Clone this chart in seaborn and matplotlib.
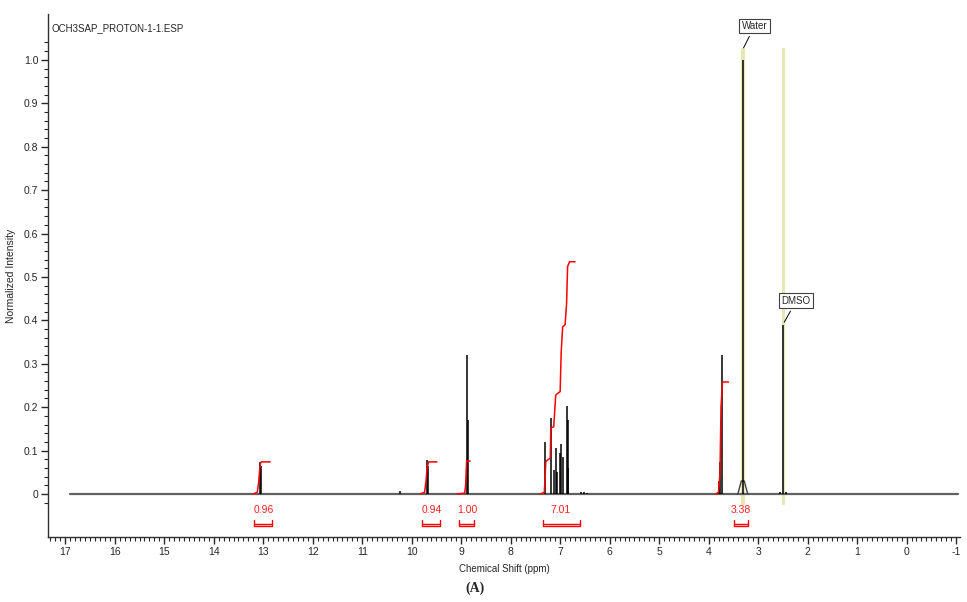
import numpy as np
import pandas as pd
import seaborn as sns
import matplotlib.pyplot as plt
from matplotlib.ticker import FixedLocator, FuncFormatter


# peak lines of the 1H spectrum (ppm, normalized intensity)
PEAK_PPM = [13.07, 13.04, 10.23, 9.70, 9.67, 8.89, 8.87,
            7.30, 7.19, 7.13, 7.09, 7.07, 7.01, 6.98, 6.95, 6.87, 6.85, 6.84,
            6.58, 6.52, 6.45, 3.79, 3.77, 3.73, 3.31, 2.55, 2.49, 2.44]
PEAK_HEIGHT = [0.074, 0.065, 0.007, 0.078, 0.065, 0.32, 0.17,
               0.12, 0.175, 0.055, 0.106, 0.05, 0.094, 0.115, 0.085, 0.203, 0.17, 0.06,
               0.004, 0.004, 0.003, 0.03, 0.074, 0.32, 1.0, 0.005, 0.39, 0.005]
BASELINE_PPM = [16.9, -1.04]
WATER_FOOT_PPM = [3.41, 3.34, 3.28, 3.21]
WATER_FOOT_VAL = [0.0, 0.03, 0.03, 0.0]

# integral curves (ppm, cumulative value)
INTEGRALS = {
    "0.96": ([13.20, 13.12, 13.09, 13.07, 13.05, 13.04, 12.86],
             [0.0, 0.004, 0.03, 0.06, 0.072, 0.074, 0.074]),
    "0.94": ([9.83, 9.74, 9.71, 9.69, 9.66, 9.49],
             [0.0, 0.004, 0.03, 0.06, 0.074, 0.074]),
    "1.00": ([9.08, 8.93, 8.91, 8.90, 8.89, 8.82],
             [0.0, 0.002, 0.02, 0.05, 0.076, 0.076]),
    "7.01": ([7.40, 7.32, 7.30, 7.29, 7.20, 7.19, 7.13, 7.09, 7.00, 6.98,
              6.95, 6.90, 6.87, 6.85, 6.81, 6.70],
             [0.0, 0.004, 0.05, 0.075, 0.083, 0.152, 0.155, 0.228, 0.236, 0.325,
              0.385, 0.39, 0.44, 0.524, 0.535, 0.535]),
    "3.38": ([3.86, 3.80, 3.77, 3.75, 3.72, 3.60],
             [0.0, 0.004, 0.05, 0.2, 0.258, 0.258]),
}
INTEGRAL_LABEL_PPM = [12.99, 9.60, 8.88, 6.99, 3.35]
BRACKET_RANGES = [(13.18, 12.83), (9.79, 9.43), (9.05, 8.75), (7.34, 6.59), (3.48, 3.20)]

SOLVENT_BANDS = [(3.35, 3.27), (2.52, 2.45)]

sns.set_style("ticks")
plt.rcParams['font.family'] = ['Liberation Sans Narrow', 'Liberation Sans', 'DejaVu Sans']
plt.rcParams['axes.unicode_minus'] = False

fig = plt.figure(figsize=(9.67, 6.02), dpi=100)
ax = fig.add_axes([0.0496, 0.108, 0.9432, 0.869])

# solvent highlight bands
for lo, hi in SOLVENT_BANDS:
    ax.fill_between([lo, hi], -0.025, 1.027, color="#e8e6b4", lw=0, zorder=1)

# baseline and peaks
ax.plot(BASELINE_PPM, [0, 0], color="#606060", lw=1.6, zorder=2)
ax.plot(WATER_FOOT_PPM, WATER_FOOT_VAL, color="#404040", lw=1.0, zorder=3)
ax.vlines(PEAK_PPM, 0, PEAK_HEIGHT, color="black", lw=1.1, zorder=4)

# integral curves
for label, (xs, ys) in INTEGRALS.items():
    df = pd.DataFrame({"ppm": xs, "val": ys})
    sns.lineplot(data=df, x="ppm", y="val", ax=ax, color="#ff0000", lw=1.1,
                 sort=False, estimator=None, zorder=5)

# integral values and brackets
for (label, _), xl, (b0, b1) in zip(INTEGRALS.items(), INTEGRAL_LABEL_PPM, BRACKET_RANGES):
    ax.text(xl, -0.037, label, color="#ff2020", fontsize=7.5, ha="center", va="center")
    ax.plot([b0, b0, b1, b1], [-0.061, -0.074, -0.074, -0.061], color="#ff0000", lw=1.0)
    ax.plot([b0, b1], [-0.070, -0.070], color="#ff0000", lw=1.0)

# solvent labels
ax.annotate("Water", xy=(3.32, 1.022), xytext=(3.07, 1.078), fontsize=7, ha="center",
            va="center", bbox=dict(boxstyle="square,pad=0.25", fc="white", ec="#404040", lw=0.8),
            arrowprops=dict(arrowstyle="-", color="black", lw=0.7))
ax.annotate("DMSO", xy=(2.50, 0.39), xytext=(2.23, 0.445), fontsize=7, ha="center",
            va="center", bbox=dict(boxstyle="square,pad=0.25", fc="white", ec="#404040", lw=0.8),
            arrowprops=dict(arrowstyle="-", color="black", lw=0.7))

ax.text(0.004, 0.973, "OCH3SAP_PROTON-1-1.ESP", transform=ax.transAxes, fontsize=7,
        ha="left", va="center")

ax.set_xlim(17.35, -1.08)
ax.set_ylim(-0.099, 1.106)

ax.xaxis.set_major_locator(FixedLocator(np.arange(17, -2, -1)))
ax.xaxis.set_minor_locator(FixedLocator(np.arange(17.3, -1.05, -0.1)))
ax.xaxis.set_major_formatter(FuncFormatter(lambda v, p: f"{v:.0f}"))
ax.yaxis.set_major_locator(FixedLocator(np.round(np.arange(0, 1.01, 0.1), 2)))
ax.yaxis.set_minor_locator(FixedLocator(np.arange(-0.02, 1.05, 0.02)))
ax.yaxis.set_major_formatter(FuncFormatter(lambda v, p: "0" if abs(v) < 1e-9 else f"{v:.1f}"))

ax.tick_params(axis="both", which="major", length=5, width=1, labelsize=7.5, pad=2)
ax.tick_params(axis="both", which="minor", length=3, width=0.8)
for s in ["top", "right"]:
    ax.spines[s].set_visible(False)
for s in ["left", "bottom"]:
    ax.spines[s].set_color("#303030")
    ax.spines[s].set_linewidth(1.0)

ax.set_xlabel("Chemical Shift (ppm)", fontsize=7, labelpad=5)
ax.set_ylabel("Normalized Intensity", fontsize=7.5)
ax.yaxis.set_label_coords(-0.035, 0.5)

fig.text(475 / 967, 1 - 588 / 602, "(A)", fontsize=10, fontweight="bold",
         family=["Liberation Serif", "DejaVu Serif"], ha="center", va="center")

fig.savefig("out.png", dpi=100)
